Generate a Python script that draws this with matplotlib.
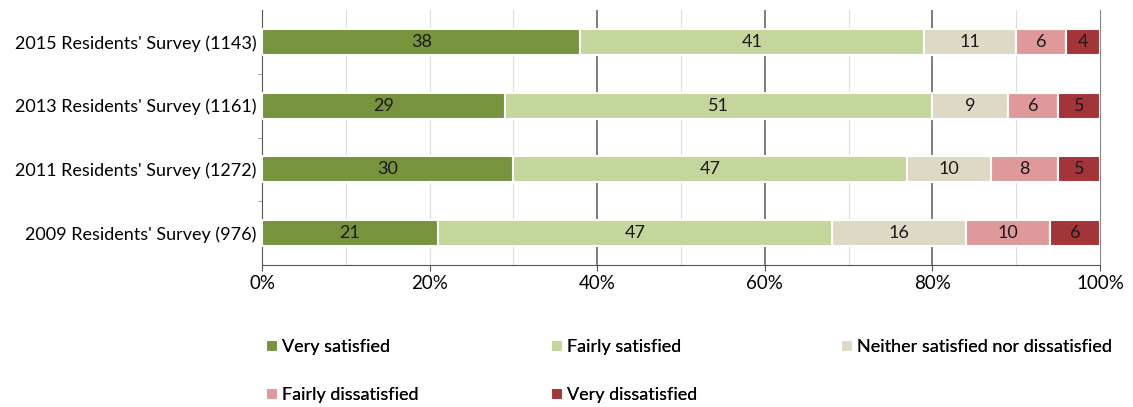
import matplotlib
matplotlib.use("Agg")
import matplotlib.pyplot as plt
import numpy as np

plt.rcParams['font.family'] = ['Lato', 'DejaVu Sans']

surveys = ["2015 Residents' Survey (1143)", "2013 Residents' Survey (1161)",
           "2011 Residents' Survey (1272)", "2009 Residents' Survey (976)"]
categories = ["Very satisfied", "Fairly satisfied", "Neither satisfied nor dissatisfied",
              "Fairly dissatisfied", "Very dissatisfied"]
very_satisfied = [38, 29, 30, 21]
fairly_satisfied = [41, 51, 47, 47]
neither = [11, 9, 10, 16]
fairly_dissatisfied = [6, 6, 8, 10]
very_dissatisfied = [4, 5, 5, 6]
colors = ["#77933C", "#C3D69B", "#DDD9C4", "#E0999B", "#A33437"]
xticks = [0, 20, 40, 60, 80, 100]
xtick_labels = ["0%", "20%", "40%", "60%", "80%", "100%"]

series = [very_satisfied, fairly_satisfied, neither, fairly_dissatisfied, very_dissatisfied]

W, H = 1133, 407
fig = plt.figure(figsize=(W / 100, H / 100), dpi=100)
ax = fig.add_axes([262 / W, 1 - 265 / H, 838 / W, 255 / H])

y = np.arange(len(surveys))
left = np.zeros(len(surveys))
handles = []
for vals, col, name in zip(series, colors, categories):
    vals = np.array(vals, dtype=float)
    bars = ax.barh(y, vals, left=left, height=0.41, color=col, edgecolor='white',
                   linewidth=1.5, label=name, zorder=3)
    handles.append(bars)
    for b, v in zip(bars, vals):
        ax.text(b.get_x() + b.get_width() / 2, b.get_y() + b.get_height() / 2,
                f"{int(v)}", ha='center', va='center', fontsize=13, color='#1a1a1a', zorder=4)
    left += vals

ax.set_xlim(0, 100)
ax.set_ylim(3.5, -0.5)
ax.set_yticks(y)
ax.set_yticklabels(surveys, fontsize=13)
ax.set_yticks([0.5, 1.5, 2.5], minor=True)
ax.tick_params(axis='y', which='major', length=0, pad=4)
ax.tick_params(axis='y', which='minor', length=3, color='#888888')
ax.set_xticks(xticks)
ax.set_xticklabels(xtick_labels, fontsize=13.5)
ax.tick_params(axis='x', length=4, color='#555555', pad=3)

for xv in range(10, 100, 10):
    if xv in (40, 60, 80):
        ax.axvline(xv, color='#666666', linewidth=1.2, zorder=1)
    else:
        ax.axvline(xv, color='#dddddd', linewidth=0.8, zorder=1)

ax.spines['top'].set_visible(False)
ax.spines['right'].set_color('#888888')
ax.spines['left'].set_color('#555555')
ax.spines['bottom'].set_color('#555555')

# legend: two rows, three columns, placed as in the reference
leg_pos = [(266, 347), (551, 347), (841, 347), (266, 395), (551, 395)]
for h, name, (px, py) in zip(handles, categories, leg_pos):
    lg = fig.legend([h], [name], loc='center left', bbox_to_anchor=(px / W, 1 - py / H),
                    frameon=False, fontsize=13, handlelength=0.65, handleheight=0.65,
                    handletextpad=0.25, borderpad=0, borderaxespad=0)
    fig.add_artist(lg)

fig.savefig("out.png", dpi=100)
